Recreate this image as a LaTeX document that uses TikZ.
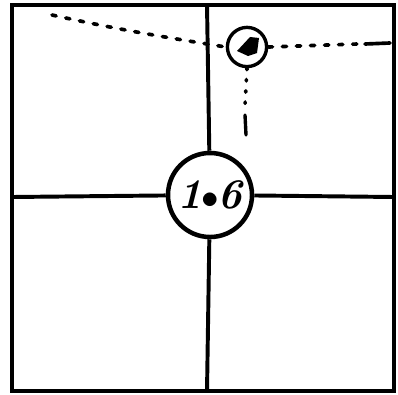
\documentclass[tikz,border=0pt]{standalone}
\usepackage{tikz}
\usetikzlibrary{positioning,calc}

\tikzset{
    hubring/.style={circle, draw, line width=3.2pt, fill=white, minimum size=2.1cm, inner sep=0pt},
    markring/.style={circle, draw, line width=2.4pt, fill=white, minimum size=0.98cm, inner sep=0pt},
    trail/.style={line width=2.6pt, line cap=round, dash pattern=on 3pt off 7pt},
    crossline/.style={line width=2.8pt}
}

\begin{document}
\begin{tikzpicture}[x=0.025cm, y=-0.025cm]
    \useasboundingbox (0,0) rectangle (398,394);

    % outer frame
    \draw[line width=3.4pt] (12,5) rectangle (394,391);

    % border points for the cross
    \coordinate (top) at (207,5);
    \coordinate (bottom) at (207,391);
    \coordinate (left) at (12,197);
    \coordinate (right) at (394,197);

    % centre ring
    \node[hubring] (hub) at (210,195) {\fontsize{30}{30}\selectfont\bfseries\itshape 1\kern-1pt$\bullet$\kern-1pt6};

    % cross lines
    \draw[crossline] (top) -- (hub);
    \draw[crossline] (hub) -- (bottom);
    \draw[crossline] (left) -- (hub);
    \draw[crossline] (hub) -- (right);

    % small marker ring
    \node[markring] (mark) at (247,47) {};
    \fill (237,51) -- (250,37) -- (259,38) -- (257,53) -- (248,56) -- cycle;

    % dashed track
    \coordinate (trackstart) at (52,15);
    \coordinate (trackend) at (358,44);
    \coordinate (trackedge) at (390,43);
    \draw[trail] (trackstart) .. controls (120,30) and (170,38) .. (mark.west);
    \draw[trail] (mark.east) -- (trackend);
    \draw[line width=2.6pt, line cap=round] (trackend) ++(7,0) -- (trackedge);

    % dotted drop
    \coordinate (dropend) at (246,135);
    \draw[trail, dash pattern=on 1pt off 7pt] (mark.south) -- (245,105);
    \draw[line width=2.4pt, line cap=round] (245,115) -- (dropend);
\end{tikzpicture}
\end{document}
